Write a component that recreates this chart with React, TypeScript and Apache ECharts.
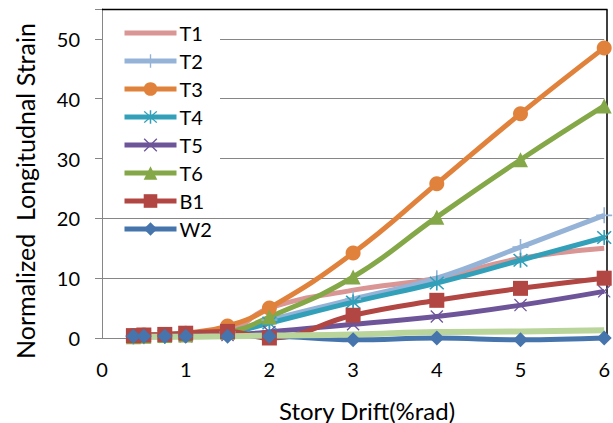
import React, { useEffect, useRef } from "react";
import * as echarts from "echarts";

const drift = [0.375, 0.5, 0.75, 1, 1.5, 2, 3, 4, 5, 6];
const T1 = [0.3, 0.3, 0.4, 0.6, 1.2, 5.0, 8.0, 10.0, 13.3, 15.0];
const T2 = [0.3, 0.3, 0.4, 0.5, 1.0, 3.0, 6.5, 10.0, 15.2, 20.5];
const T3 = [0.4, 0.5, 0.6, 0.8, 2.0, 5.0, 14.2, 25.8, 37.5, 48.5];
const T4 = [0.2, 0.3, 0.3, 0.4, 0.8, 2.5, 6.0, 9.2, 13.0, 16.8];
const T5 = [0.1, 0.2, 0.2, 0.3, 0.5, 1.0, 2.3, 3.6, 5.5, 7.8];
const T6 = [0.2, 0.3, 0.4, 0.5, 1.0, 3.5, 10.2, 20.2, 29.8, 38.8];
const B1 = [0.4, 0.5, 0.6, 0.8, 1.1, 0.0, 3.8, 6.3, 8.3, 10.0];
const W2 = [0.3, 0.3, 0.3, 0.3, 0.3, 0.3, -0.3, 0.0, -0.3, 0.0];
const W1 = [0.2, 0.2, 0.2, 0.2, 0.3, 0.4, 0.6, 1.0, 1.1, 1.3];

const legendNames = ["T1", "T2", "T3", "T4", "T5", "T6", "B1", "W2"];
const yTicks = [0, 10, 20, 30, 40, 50];
const xTicks = [0, 1, 2, 3, 4, 5, 6];
const xTitle = "Story Drift(%rad)";
const yTitle = "Normalized  Longitudnal Strain";

const FONT = "Lato";

const PLUS = "path://M9,0L11,0L11,20L9,20ZM0,9L20,9L20,11L0,11Z";
const CROSS = "path://M0,1.4L1.4,0L20,18.6L18.6,20ZM18.6,0L20,1.4L1.4,20L0,18.6Z";
const STAR =
  "path://M9,0L11,0L11,20L9,20ZM1,2.4L2.4,1L19,17.6L17.6,19ZM17.6,1L19,2.4L2.4,19L1,17.6Z";

function pts(ys: number[]) {
  return drift.map((x, i) => [x, ys[i]]);
}

export default function App() {
  const ref = useRef<HTMLDivElement>(null);
  useEffect(() => {
    if (!ref.current) return;
    const chart = echarts.init(ref.current, null, { renderer: "svg" });
    const mk = (
      name: string,
      ys: number[],
      color: string,
      symbol: string,
      symbolSize: number,
      width = 5
    ) => ({
      name,
      type: "line",
      data: pts(ys),
      smooth: 0.45,
      clip: false,
      symbol,
      symbolSize,
      showSymbol: symbol !== "none",
      lineStyle: { color, width },
      itemStyle: { color, borderWidth: 0 },
      emphasis: { disabled: true },
    });
    chart.setOption({
      animation: false,
      textStyle: { fontFamily: FONT },
      grid: { left: 102, right: 6, top: 9, bottom: 85, containLabel: false },
      legend: {
        data: legendNames.map((n) =>
          n === "T1" ? { name: n, itemStyle: { opacity: 0 } } : { name: n }
        ),
        orient: "vertical",
        left: 122,
        top: 23,
        padding: 0,
        itemWidth: 52,
        itemHeight: 17,
        itemGap: 8,
        lineStyle: { width: 5 },
        textStyle: { fontFamily: FONT, fontSize: 20, color: "#000", padding: [0, 0, 0, -2] },
        z: 20,
      },
      xAxis: {
        type: "value",
        min: 0,
        max: 6,
        interval: 1,
        axisLine: { show: true, lineStyle: { color: "#868686", width: 1 } },
        axisTick: { show: false },
        splitLine: { show: false },
        axisLabel: {
          fontFamily: FONT,
          fontSize: 20,
          color: "#000",
          margin: 21,
          formatter: (v: number) => (xTicks.includes(v) ? String(v) : ""),
        },
      },
      yAxis: {
        type: "value",
        min: 0,
        max: 55,
        interval: 10,
        axisLine: { show: true, lineStyle: { color: "#868686", width: 1 } },
        axisTick: { show: true, inside: false, length: 7, lineStyle: { color: "#868686" } },
        splitLine: { show: true, lineStyle: { color: "#868686", width: 1 } },
        axisLabel: {
          fontFamily: FONT,
          fontSize: 20,
          color: "#000",
          margin: 22,
          formatter: (v: number) => (yTicks.includes(v) ? String(v) : ""),
        },
      },
      graphic: [
        {
          type: "rect",
          z: 1,
          shape: { x: 103, y: 10, width: 117, height: 204 },
          style: { fill: "#fff" },
        },
        {
          type: "line",
          z: 1,
          shape: { x1: 102, y1: 9.5, x2: 607.5, y2: 9.5 },
          style: { stroke: "#000", lineWidth: 1.5 },
        },
        {
          type: "line",
          z: 1,
          shape: { x1: 607, y1: 9.5, x2: 607, y2: 338 },
          style: { stroke: "#000", lineWidth: 1.5 },
        },
        {
          type: "text",
          z: 5,
          x: 367,
          y: 410,
          style: {
            text: xTitle,
            fontFamily: FONT,
            fontSize: 24,
            fill: "#000",
            align: "center",
            verticalAlign: "middle",
          },
        },
        {
          type: "text",
          z: 5,
          x: 25,
          y: 191,
          rotation: Math.PI / 2,
          style: {
            text: yTitle,
            fontFamily: FONT,
            fontSize: 25,
            fill: "#000",
            align: "center",
            verticalAlign: "middle",
          },
        },
      ],
      series: [
        mk("T1", T1, "#D99694", "none", 0),
        mk("T2", T2, "#95B3D7", PLUS, 16),
        mk("T3", T3, "#E0823B", "circle", 15),
        mk("T4", T4, "#33A0B9", STAR, 15),
        mk("T5", T5, "#6E5599", CROSS, 13),
        mk("T6", T6, "#84A747", "triangle", 15),
        mk("B1", B1, "#B14643", "rect", 15),
        mk("W2", W2, "#4674AC", "diamond", 15),
        mk("W1", W1, "#B9D59C", "none", 0, 6),
      ],
    });
    return () => chart.dispose();
  }, []);
  return (
    <div
      ref={ref}
      style={{ position: "fixed", left: 0, top: 0, width: 613, height: 423, background: "#fff" }}
    />
  );
}
